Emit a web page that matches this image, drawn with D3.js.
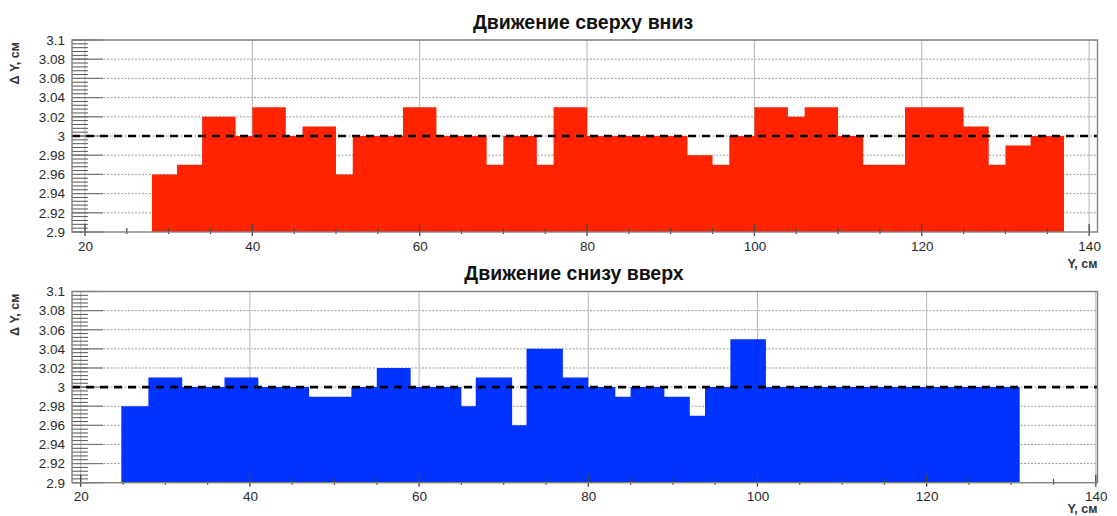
<!DOCTYPE html>
<html>
<head>
<meta charset="utf-8">
<script src="https://cdn.jsdelivr.net/npm/d3@7"></script>
<style>
  html, body { margin: 0; padding: 0; background: #fff; }
  svg { display: block; font-family: "Liberation Sans", Arial, sans-serif; }
</style>
</head>
<body>
<svg id="chart" width="1117" height="516"></svg>
<script>
// ---------- data ----------
const topTitle = "Движение сверху вниз";
const bottomTitle = "Движение снизу вверх";
const yLabel = "Δ Y, см";
const xLabel = "Y, см";

// bin edges (Y, cm) and bin contents (ΔY, cm)
const topEdges  = [28,31,34,38,40,44,46,50,52,58,62,68,70,74,76,80,92,95,97,100,104,106,110,113,118,125,128,130,133,137];
const topValues = [2.96,2.97,3.02,3.00,3.03,3.00,3.01,2.96,3.00,3.03,3.00,2.97,3.00,2.97,3.03,3.00,2.98,2.97,3.00,3.03,3.02,3.03,3.00,2.97,3.03,3.01,2.97,2.99,3.00];

const bottomEdges  = [24.8,28,32,37,41,47,52,55,59,65,66.7,71,72.7,77,80,83.2,85,89,92,93.8,96.8,101,131];
const bottomValues = [2.98,3.01,3.00,3.01,3.00,2.99,3.00,3.02,3.00,2.98,3.01,2.96,3.04,3.01,3.00,2.99,3.00,2.99,2.97,3.00,3.05,3.00];

const xTicks = [20,40,60,80,100,120,140];
const xMinorTicks = [25,30,35,45,50,55,65,70,75,85,90,95,105,110,115,125,130,135];
const yTicks = [2.9,2.92,2.94,2.96,2.98,3.0,3.02,3.04,3.06,3.08,3.1];
const referenceLevel = 3.0;

// ---------- drawing ----------
const svg = d3.select("#chart");

function panel(cfg) {
  const g = svg.append("g");
  const x = d3.scaleLinear().domain(cfg.xDomain).range([cfg.left, cfg.right]);
  const y = d3.scaleLinear().domain([2.9, 3.1]).range([cfg.bottom, cfg.top]);

  // horizontal dotted grid
  g.selectAll(".hg").data(yTicks.slice(1)).enter().append("line")
    .attr("x1", cfg.left).attr("x2", cfg.right)
    .attr("y1", d => y(d)).attr("y2", d => y(d))
    .attr("stroke", "#9a9a9a").attr("stroke-width", 1).attr("stroke-dasharray", "2,1.5");
  // vertical grid
  g.selectAll(".vg").data(xTicks).enter().append("line")
    .attr("x1", d => x(d)).attr("x2", d => x(d))
    .attr("y1", cfg.top).attr("y2", cfg.bottom)
    .attr("stroke", "#b5b5b5").attr("stroke-width", 1);

  // histogram
  const pts = cfg.edges.map((e, i) => ({x: e, v: cfg.values[Math.min(i, cfg.values.length - 1)]}));
  const area = d3.area()
    .x(d => x(d.x)).y0(y(2.9)).y1(d => y(d.v))
    .curve(d3.curveStepAfter);
  g.append("path").datum(pts).attr("d", area).attr("fill", cfg.color);

  // y minor / major ticks (inside)
  const yMinor = d3.range(0, 51).map(i => 2.9 + i * 0.004);
  g.selectAll(".ymt").data(yMinor).enter().append("line")
    .attr("x1", cfg.left).attr("x2", cfg.left + 16)
    .attr("y1", d => y(d)).attr("y2", d => y(d))
    .attr("stroke", "#555").attr("stroke-width", 1);
  g.selectAll(".yMt").data(yTicks).enter().append("line")
    .attr("x1", cfg.left).attr("x2", cfg.left + 31)
    .attr("y1", d => y(d)).attr("y2", d => y(d))
    .attr("stroke", "#777").attr("stroke-width", 1.2);

  // x ticks
  g.selectAll(".xMt").data(xTicks).enter().append("line")
    .attr("x1", d => x(d)).attr("x2", d => x(d))
    .attr("y1", cfg.bottom - 8).attr("y2", cfg.bottom + 4)
    .attr("stroke", "#444").attr("stroke-width", 1.3);
  g.selectAll(".xmt").data(xMinorTicks).enter().append("line")
    .attr("x1", d => x(d)).attr("x2", d => x(d))
    .attr("y1", cfg.bottom - 4).attr("y2", cfg.bottom + 2)
    .attr("stroke", "#444").attr("stroke-width", 1.2);

  // dashed reference line
  g.append("line")
    .attr("x1", cfg.left).attr("x2", cfg.right)
    .attr("y1", y(referenceLevel)).attr("y2", y(referenceLevel))
    .attr("stroke", "#000").attr("stroke-width", 2.6).attr("stroke-dasharray", "8,6");

  // frame
  g.append("rect")
    .attr("x", cfg.left).attr("y", cfg.top)
    .attr("width", cfg.right - cfg.left).attr("height", cfg.bottom - cfg.top)
    .attr("fill", "none").attr("stroke", "#808080").attr("stroke-width", 1.4);

  // axis labels via d3 axes
  const ya = d3.axisLeft(y).tickValues(yTicks).tickSize(0).tickPadding(7)
    .tickFormat(d => String(+d.toFixed(2)));
  const yg = g.append("g").attr("transform", `translate(${cfg.left},0)`).call(ya);
  yg.select(".domain").remove();
  yg.selectAll("text").attr("font-size", 13.5).attr("fill", "#2a2a2a")
    .attr("font-family", "Liberation Sans, Arial, sans-serif");

  const xa = d3.axisBottom(x).tickValues(xTicks).tickSize(0).tickPadding(9)
    .tickFormat(d3.format("d"));
  const xg = g.append("g").attr("transform", `translate(0,${cfg.bottom})`).call(xa);
  xg.select(".domain").remove();
  xg.selectAll("text").attr("font-size", 13.5).attr("fill", "#2a2a2a")
    .attr("font-family", "Liberation Sans, Arial, sans-serif");

  // titles
  g.append("text").attr("x", cfg.titleX).attr("y", cfg.titleY)
    .attr("text-anchor", "middle").attr("font-size", 19.5).attr("font-weight", "bold")
    .attr("fill", "#111").text(cfg.title);
  g.append("text").attr("x", cfg.right).attr("y", cfg.xLabelY)
    .attr("text-anchor", "end").attr("font-size", 12.5).attr("font-weight", "bold")
    .attr("fill", "#333").text(xLabel);
  g.append("text")
    .attr("transform", `translate(19,${cfg.top + 2}) rotate(-90)`)
    .attr("text-anchor", "end").attr("font-size", 12.5).attr("font-weight", "bold")
    .attr("fill", "#333").text(yLabel);
}

panel({
  xDomain: [18.45, 141], left: 72, right: 1097.5, top: 40, bottom: 232,
  edges: topEdges, values: topValues, color: "#ff2300",
  title: topTitle, titleX: 583, titleY: 29, xLabelY: 268
});
panel({
  xDomain: [18.97, 140.2], left: 72, right: 1097.5, top: 291.5, bottom: 482.7,
  edges: bottomEdges, values: bottomValues, color: "#0033ff",
  title: bottomTitle, titleX: 574, titleY: 280, xLabelY: 513
});
</script>
</body>
</html>
